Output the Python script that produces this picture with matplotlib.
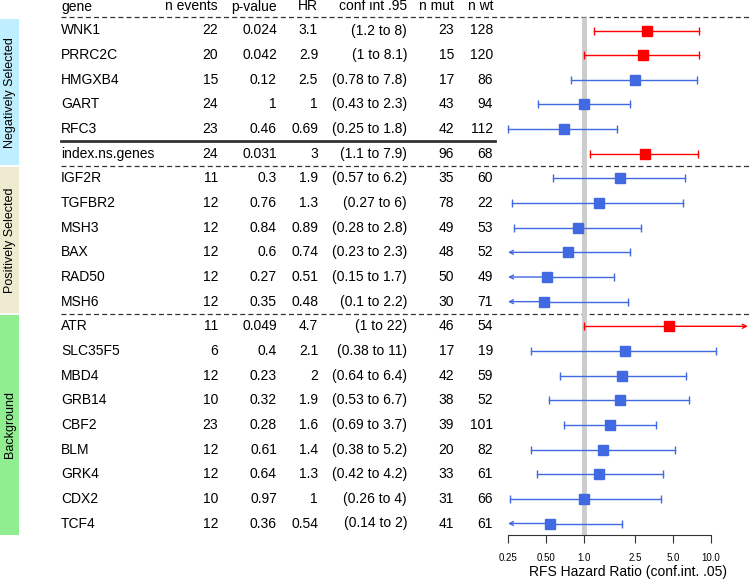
import matplotlib
matplotlib.use('Agg')
import matplotlib.pyplot as plt

plt.rcParams['font.family'] = ['Liberation Sans', 'DejaVu Sans']

genes = ['WNK1', 'PRRC2C', 'HMGXB4', 'GART', 'RFC3', 'index.ns.genes',
         'IGF2R', 'TGFBR2', 'MSH3', 'BAX', 'RAD50', 'MSH6',
         'ATR', 'SLC35F5', 'MBD4', 'GRB14', 'CBF2', 'BLM', 'GRK4', 'CDX2', 'TCF4']
n_events = [22, 20, 15, 24, 23, 24, 11, 12, 12, 12, 12, 12, 11, 6, 12, 10, 23, 12, 12, 10, 12]
p_value = [0.024, 0.042, 0.12, 1, 0.46, 0.031, 0.3, 0.76, 0.84, 0.6, 0.27, 0.35,
           0.049, 0.4, 0.23, 0.32, 0.28, 0.61, 0.64, 0.97, 0.36]
hr = [3.1, 2.9, 2.5, 1, 0.69, 3, 1.9, 1.3, 0.89, 0.74, 0.51, 0.48,
      4.7, 2.1, 2, 1.9, 1.6, 1.4, 1.3, 1, 0.54]
ci_low = [1.2, 1, 0.78, 0.43, 0.25, 1.1, 0.57, 0.27, 0.28, 0.23, 0.15, 0.1,
          1, 0.38, 0.64, 0.53, 0.69, 0.38, 0.42, 0.26, 0.14]
ci_high = [8, 8.1, 7.8, 2.3, 1.8, 7.9, 6.2, 6, 2.8, 2.3, 1.7, 2.2,
           22, 11, 6.4, 6.7, 3.7, 5.2, 4.2, 4, 2]
n_mut = [23, 15, 17, 43, 42, 96, 35, 78, 49, 48, 50, 30, 46, 17, 42, 38, 39, 20, 33, 31, 41]
n_wt = [128, 120, 86, 94, 112, 68, 60, 22, 53, 52, 49, 71, 54, 19, 59, 52, 101, 82, 61, 66, 61]

groups = ['Negatively Selected', 'Positively Selected', 'Background']
group_rows = [(0, 5), (6, 11), (12, 20)]
group_colors = ['#BFEFFF', '#EEEBD0', '#90EE90']

ticks = [0.25, 0.5, 1.0, 2.5, 5.0, 10.0]
tick_labels = ['0.25', '0.50', '1.0', '2.5', '5.0', '10.0']

W, H = 750, 580
fig = plt.figure(figsize=(7.5, 5.8), dpi=100)

# table layer in pixel coords
tab = fig.add_axes([0, 0, 1, 1])
tab.set_xlim(0, W)
tab.set_ylim(H, 0)
tab.axis('off')

y0, dy = 30.5, 24.65
ys = [y0 + i * dy for i in range(len(genes))]

# group strips
for name, (a, b), col in zip(groups, group_rows, group_colors):
    top = ys[a] - dy / 2 + 1
    bot = ys[b] + dy / 2 - 1
    tab.add_patch(plt.Rectangle((0, top), 19, bot - top, color=col, lw=0))
    tab.text(10, (top + bot) / 2, name, rotation=90, ha='center', va='center', fontsize=9)

cols = [(61, 'left'), (218, 'right'), (277, 'right'), (318, 'right'),
        (407, 'right'), (454, 'right'), (493, 'right')]
header = ['gene', 'n events', 'p-value', 'HR', 'conf int .95', 'n mut', 'n wt']
for (x, ha), h in zip(cols, header):
    tab.text(x, 6.5, h, ha=ha, va='center', fontsize=10)

for i, g in enumerate(genes):
    vals = [g, str(n_events[i]), f'{p_value[i]:.2g}', f'{hr[i]:.2g}',
            f'({ci_low[i]:.2g} to {ci_high[i]:.2g})', str(n_mut[i]), str(n_wt[i])]
    for (x, ha), v in zip(cols, vals):
        tab.text(x, ys[i], v, ha=ha, va='center', fontsize=10)

dash = dict(color='#333333', lw=0.9, ls=(0, (4, 2.5)))
tab.plot([61, W], [17, 17], **dash)
tab.plot([61, W], [ys[5] + dy / 2, ys[5] + dy / 2], **dash)
tab.plot([61, W], [ys[11] + dy / 2, ys[11] + dy / 2], **dash)
tab.plot([61, 495], [ys[4] + dy / 2, ys[4] + dy / 2], color='#333333', lw=2)

# forest plot
ax = fig.add_axes([500 / W, (H - 535) / H, 250 / W, 535 / H])
ax.patch.set_alpha(0)
ax.set_xscale('log')
ax.set_xlim(0.216, 20.3)
ax.set_ylim(535, 0)
for s in ['top', 'right', 'left']:
    ax.spines[s].set_visible(False)
ax.spines['bottom'].set_bounds(0.25, 10)
ax.spines['bottom'].set_color('#333333')
ax.set_yticks([])
ax.set_xticks(ticks)
ax.set_xticklabels(tick_labels, fontsize=7)
ax.minorticks_off()
ax.tick_params(axis='x', length=6, pad=7, color='#333333')
tab.text(628, 572, 'RFS Hazard Ratio (conf.int. .05)', ha='center', va='center', fontsize=10)

ax.plot([1, 1], [17, 535], color='#CCCCCC', lw=3.5, zorder=1, solid_capstyle='butt')

lo_clip, hi_clip = 0.25, 19.5
for i in range(len(genes)):
    c = '#FF0000' if p_value[i] < 0.05 else '#4169E1'
    y = ys[i]
    lo, hi = ci_low[i], ci_high[i]
    arrow = dict(arrowstyle='->', color=c, lw=1, mutation_scale=7, shrinkA=0, shrinkB=0)
    if lo < lo_clip:
        ax.annotate('', xy=(lo_clip, y), xytext=(hr[i], y), arrowprops=arrow, zorder=2)
    else:
        ax.plot([lo, hr[i]], [y, y], color=c, lw=1, zorder=2)
        ax.plot([lo], [y], marker='|', ms=6, color=c, mew=1, zorder=2)
    if hi > hi_clip:
        ax.annotate('', xy=(hi_clip, y), xytext=(hr[i], y), arrowprops=arrow, zorder=2)
    else:
        ax.plot([hr[i], hi], [y, y], color=c, lw=1, zorder=2)
        ax.plot([hi], [y], marker='|', ms=6, color=c, mew=1, zorder=2)
    ax.plot([hr[i]], [y], marker='s', ms=7.5, color=c, mec=c, zorder=3)

fig.savefig('out.png', dpi=100)
